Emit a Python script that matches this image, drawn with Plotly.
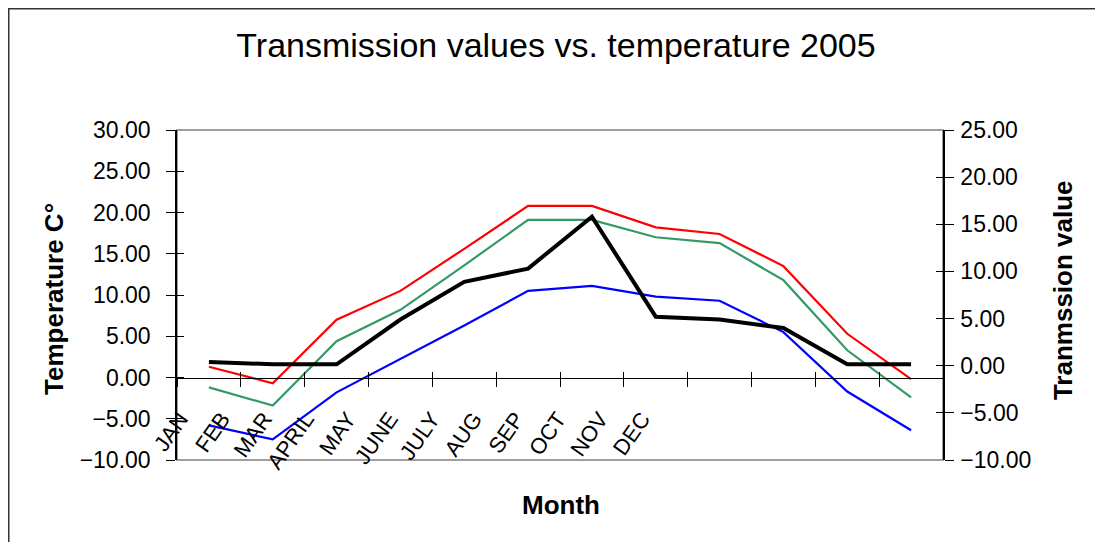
import plotly.graph_objects as go

months = ["JAN", "FEB", "MAR", "APRIL", "MAY", "JUNE", "JULY", "AUG", "SEP", "OCT", "NOV", "DEC"]
temp_max = [1.3, -0.7, 7.0, 10.5, 15.6, 20.8, 20.8, 18.2, 17.4, 13.5, 5.3, -0.2]
temp_mean = [-1.2, -3.4, 4.4, 8.2, 13.6, 19.1, 19.1, 17.0, 16.3, 11.8, 3.3, -2.4]
temp_min = [-5.8, -7.5, -1.8, 2.2, 6.3, 10.5, 11.1, 9.8, 9.3, 5.5, -1.7, -6.4]
transmission = [0.4, 0.15, 0.15, 4.9, 8.9, 10.3, 15.8, 5.2, 4.9, 4.0, 0.15, 0.15]

left_ticks = [-10, -5, 0, 5, 10, 15, 20, 25, 30]
right_ticks = [-10, -5, 0, 5, 10, 15, 20, 25]

FONT = "Arial, Liberation Sans, sans-serif"
idx = list(range(len(months)))
boundaries = [i - 0.5 for i in range(len(months) + 1)]

W, H = 1087, 534
ML, MT, PW, PH = 169, 122, 766, 330

fig = go.Figure()
fig.add_trace(go.Scatter(x=idx, y=temp_max, mode="lines", line=dict(color="#FF0000", width=2.2), showlegend=False))
fig.add_trace(go.Scatter(x=idx, y=temp_mean, mode="lines", line=dict(color="#339966", width=2.2), showlegend=False))
fig.add_trace(go.Scatter(x=idx, y=temp_min, mode="lines", line=dict(color="#0000FF", width=2.2), showlegend=False))
fig.add_trace(go.Scatter(x=idx, y=transmission, mode="lines", line=dict(color="#000000", width=4), yaxis="y2", showlegend=False))
# helper traces that activate the overlay axes (labels, crossing tick marks)
fig.add_trace(go.Scatter(x=[None], y=[None], xaxis="x2", showlegend=False, hoverinfo="skip"))
fig.add_trace(go.Scatter(x=[None], y=[None], xaxis="x3", showlegend=False, hoverinfo="skip"))
fig.add_trace(go.Scatter(x=[None], y=[None], yaxis="y3", showlegend=False, hoverinfo="skip"))
fig.add_trace(go.Scatter(x=[None], y=[None], yaxis="y4", showlegend=False, hoverinfo="skip"))

fig.update_layout(
    width=W, height=H,
    margin=dict(l=ML, r=W - ML - PW, t=MT, b=H - MT - PH),
    paper_bgcolor="white", plot_bgcolor="white",
    font=dict(family=FONT, color="black"),
    title=dict(text="Transmission values vs. temperature 2005", x=548 / W, y=1 - 37 / H,
               xref="container", yref="container", xanchor="center", yanchor="middle",
               font=dict(size=34, family=FONT, color="black")),
    xaxis=dict(range=[-0.5, len(months) - 0.5], tickvals=boundaries, showticklabels=False,
               ticks="outside", ticklen=8, tickcolor="black", showline=True, linecolor="black",
               linewidth=1, showgrid=False, zeroline=False, anchor="free", position=0.25),
    xaxis3=dict(overlaying="x", range=[-0.5, len(months) - 0.5], tickvals=boundaries, showticklabels=False,
                ticks="inside", ticklen=6, tickcolor="black", showline=False,
                showgrid=False, zeroline=False, anchor="free", position=0.25),
    xaxis2=dict(overlaying="x", range=[-0.0714, -0.0714 + PW / 42], tickvals=idx, ticktext=months,
                tickangle=-55, ticks="", showline=False, showgrid=False, zeroline=False,
                anchor="free", position=0.18, tickfont=dict(size=22, family=FONT)),
    yaxis=dict(range=[-10, 30], tickvals=left_ticks, tickformat=".2f", ticks="outside", ticklen=9,
               tickcolor="black", showline=True, linecolor="black", linewidth=1.5,
               showgrid=False, zeroline=False, tickfont=dict(size=23, family=FONT),
               ticklabelstandoff=11),
    yaxis3=dict(range=[-10, 30], tickvals=left_ticks, showticklabels=False, overlaying="y", side="left",
                ticks="inside", ticklen=7, tickcolor="black", showline=False,
                showgrid=False, zeroline=False),
    yaxis2=dict(range=[-10, 25], tickvals=right_ticks, tickformat=".2f", overlaying="y", side="right",
                ticks="outside", ticklen=9, tickcolor="black", showline=True, linecolor="black",
                linewidth=1.5, showgrid=False, zeroline=False, tickfont=dict(size=23, family=FONT),
                ticklabelstandoff=2),
    yaxis4=dict(range=[-10, 25], tickvals=right_ticks, showticklabels=False, overlaying="y", side="right",
                ticks="inside", ticklen=7, tickcolor="black", showline=False,
                showgrid=False, zeroline=False),
    shapes=[
        dict(type="rect", xref="paper", yref="paper", x0=0, x1=1, y0=0, y1=1,
             line=dict(color="#808080", width=1.5), layer="below"),
        dict(type="line", xref="paper", yref="paper", x0=-ML / PW, x1=-ML / PW,
             y0=-(H - MT - PH) / PH - 0.05, y1=1 + MT / PH,
             line=dict(color="#333333", width=3), layer="below"),
        dict(type="line", xref="paper", yref="paper", x0=-ML / PW, x1=(W - ML) / PW + 0.05,
             y0=1 + MT / PH, y1=1 + MT / PH,
             line=dict(color="#333333", width=3), layer="below"),
    ],
    annotations=[
        dict(text="<b>Temperature C°</b>", xref="paper", yref="paper", x=-0.1606, y=0.488,
             xanchor="center", yanchor="middle",
             textangle=-90, showarrow=False, font=dict(size=26, family=FONT)),
        dict(text="<b>Tranmssion value</b>", xref="paper", yref="paper", x=1.1567, y=0.515,
             xanchor="center", yanchor="middle",
             textangle=-90, showarrow=False, font=dict(size=26, family=FONT)),
        dict(text="<b>Month</b>", xref="paper", yref="paper", x=0.5013, y=-0.136,
             xanchor="center", yanchor="middle",
             showarrow=False, font=dict(size=26, family=FONT)),
    ],
)

fig.write_html("out.html")
